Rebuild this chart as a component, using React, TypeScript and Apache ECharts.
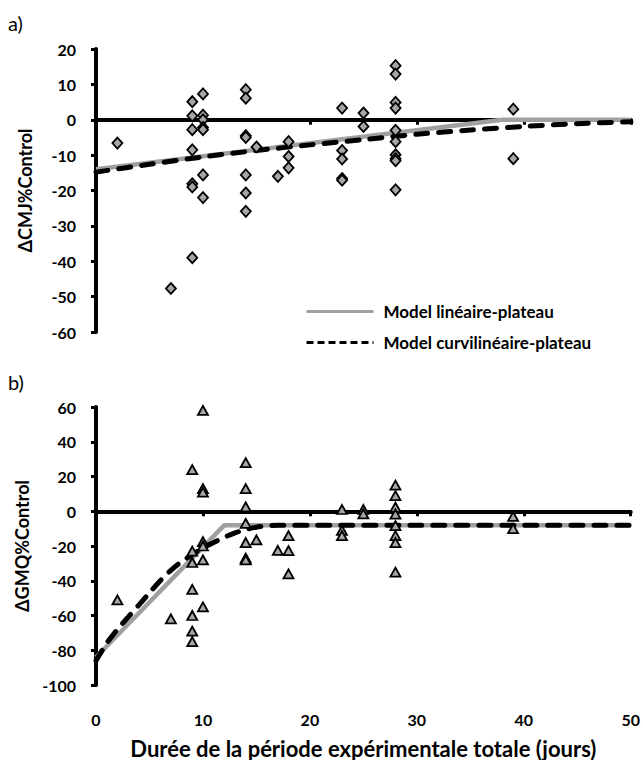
import React, { useEffect, useRef } from "react";
import * as echarts from "echarts";

// ---------- data ----------
const xTicks = [0, 10, 20, 30, 40, 50];

// Panel a) ΔCMJ%Control observations [days, value]
const cmjPoints: [number, number][] = [
  [2, -6.6], [7, -47.7],
  [9, 5.1], [9, 1.1], [9, -2.8], [9, -8.5], [9, -18.1], [9, -19], [9, -39],
  [10, 7.3], [10, 1.3], [10, 0], [10, -2.2], [10, -2.8], [10, -15.6], [10, -22],
  [14, 8.5], [14, 6.1], [14, -4.5], [14, -5], [14, -15.6], [14, -20.7], [14, -25.9],
  [15, -7.7], [17, -16],
  [18, -6.2], [18, -10.4], [18, -13.6],
  [23, 3.3], [23, -8.7], [23, -11.1], [23, -16.6], [23, -17.1],
  [25, 1.9], [25, -1.9],
  [28, 15.3], [28, 12.9], [28, 4.9], [28, 3.3], [28, -3], [28, -6.2], [28, -9.9], [28, -11], [28, -11.6], [28, -19.8],
  [39, 3], [39, -11],
];
const cmjLinear: [number, number][] = [[0, -14], [38, 0], [50, 0]];
const cmjCurve: [number, number][] = [
  [0, -14.8], [5, -12.6], [10, -10.5], [15, -8.7], [20, -7.1], [25, -5.6],
  [30, -4.1], [35, -2.9], [40, -1.9], [45, -1.1], [50, -0.6],
];

// Panel b) ΔGMQ%Control observations [days, value]
const gmqPoints: [number, number][] = [
  [2, -51], [7, -62],
  [9, 24], [9, -23], [9, -29.5], [9, -45], [9, -60], [9, -69], [9, -75],
  [10, 58], [10, 13], [10, 11], [10, -17.5], [10, -20], [10, -28], [10, -55],
  [14, 28], [14, 13], [14, 2.5], [14, -7], [14, -18], [14, -27], [14, -28],
  [15, -16.5], [17, -22.5],
  [18, -14], [18, -22.7], [18, -36],
  [23, 1], [23, -11], [23, -14],
  [25, 1], [25, -1.5],
  [28, 15], [28, 9], [28, 2.3], [28, -1.6], [28, -8.3], [28, -14], [28, -18], [28, -35],
  [39, -3], [39, -10],
];
const gmqLinear: [number, number][] = [[0, -84], [12, -8], [50, -8]];
const gmqCurve: [number, number][] = [
  [0, -86], [1, -76], [2, -68], [3, -61], [4, -54], [5, -47], [6, -40], [7, -34],
  [8, -29], [9, -25], [10, -21], [11, -18], [12, -15], [13, -12.5], [14, -10.5],
  [15, -9.2], [16, -8.4], [17, -8], [20, -8], [30, -8], [40, -8], [50, -8],
];

const seriesNames = ["Model linéaire-plateau", "Model curvilinéaire-plateau"];
const yTitles = ["ΔCMJ%Control", "ΔGMQ%Control"];
const xTitle = "Durée de la période expérimentale totale (jours)";
const panelLabels = ["a)", "b)"];

const FONT = "Lato, 'Open Sans', sans-serif";

export default function App() {
  const ref = useRef<HTMLDivElement>(null);
  useEffect(() => {
    if (!ref.current) return;
    const chart = echarts.init(ref.current, undefined, { renderer: "svg" });
    const axisLineStyle = { color: "#000", width: 4 };
    const tickStyle = { show: true, length: 5, lineStyle: { color: "#000", width: 3 } };
    const yLabel = { color: "#000", fontFamily: FONT, fontWeight: "bold" as const, fontSize: 16, margin: 20 };
    const xBase = {
      type: "value" as const,
      min: xTicks[0],
      max: xTicks[xTicks.length - 1],
      interval: 10,
      splitLine: { show: false },
    };
    const lineGray = { color: "#A0A0A0", width: 4.5 };
    const lineDash = { color: "#000", width: 5, type: [12, 11], cap: "round" as const };
    const hiddenSymbol = { opacity: 0, borderWidth: 0 };
    chart.setOption({
      animation: false,
      backgroundColor: "#fff",
      textStyle: { fontFamily: FONT },
      grid: [
        { left: 96, top: 49, width: 535, height: 283 },
        { left: 96, top: 407, width: 535, height: 279 },
      ],
      xAxis: [
        { ...xBase, gridIndex: 0, axisLine: { onZero: true, lineStyle: axisLineStyle }, axisTick: tickStyle, axisLabel: { show: false } },
        { ...xBase, gridIndex: 1, axisLine: { onZero: true, lineStyle: axisLineStyle }, axisTick: tickStyle, axisLabel: { show: false } },
        {
          ...xBase, gridIndex: 1, position: "bottom",
          axisLine: { show: false, onZero: false }, axisTick: { show: false },
          axisLabel: { color: "#000", fontFamily: FONT, fontWeight: "bold", fontSize: 16, margin: 26 },
          name: xTitle, nameLocation: "middle", nameGap: 52,
          nameTextStyle: { color: "#000", fontFamily: FONT, fontWeight: "bold", fontSize: 22 },
        },
      ],
      yAxis: [
        {
          type: "value", gridIndex: 0, min: -60, max: 20, interval: 10,
          axisLine: { show: true, onZero: false, lineStyle: axisLineStyle }, axisTick: tickStyle,
          axisLabel: yLabel, splitLine: { show: false },
          name: yTitles[0], nameLocation: "middle", nameGap: 62,
          nameTextStyle: { color: "#000", fontFamily: FONT, fontWeight: "bold", fontSize: 18 },
        },
        {
          type: "value", gridIndex: 1, min: -100, max: 60, interval: 20,
          axisLine: { show: true, onZero: false, lineStyle: axisLineStyle }, axisTick: tickStyle,
          axisLabel: yLabel, splitLine: { show: false },
          name: yTitles[1], nameLocation: "middle", nameGap: 62,
          nameTextStyle: { color: "#000", fontFamily: FONT, fontWeight: "bold", fontSize: 18 },
        },
      ],
      legend: {
        orient: "vertical",
        left: 305,
        top: 303,
        padding: 0,
        itemWidth: 67,
        itemHeight: 14,
        itemGap: 14,
        selectedMode: false,
        textStyle: { color: "#000", fontFamily: FONT, fontWeight: "bold", fontSize: 17, padding: [0, 0, 0, 5] },
        data: [
          { name: seriesNames[0], itemStyle: hiddenSymbol, lineStyle: { color: "#A0A0A0", width: 3, type: "solid" } },
          { name: seriesNames[1], itemStyle: hiddenSymbol, lineStyle: { color: "#000", width: 3, type: [7, 4], cap: "butt" } },
        ],
      },
      graphic: [
        { type: "text", left: 8, top: 13, style: { text: panelLabels[0], font: `20px ${FONT}`, fill: "#000" } },
        { type: "text", left: 8, top: 372, style: { text: panelLabels[1], font: `20px ${FONT}`, fill: "#000" } },
      ],
      series: [
        { name: seriesNames[0], type: "line", xAxisIndex: 0, yAxisIndex: 0, data: cmjLinear, symbol: "none", lineStyle: lineGray, itemStyle: { color: "#A0A0A0" }, z: 2 },
        { name: seriesNames[1], type: "line", xAxisIndex: 0, yAxisIndex: 0, data: cmjCurve, symbol: "none", smooth: 0.3, lineStyle: lineDash, itemStyle: { color: "#000" }, z: 3 },
        {
          type: "scatter", xAxisIndex: 0, yAxisIndex: 0, data: cmjPoints, symbol: "diamond", symbolSize: [10, 11],
          itemStyle: { color: "#A6A6A6", borderColor: "#000", borderWidth: 1.8, opacity: 1 }, z: 4,
        },
        { name: seriesNames[0], type: "line", xAxisIndex: 1, yAxisIndex: 1, data: gmqLinear, symbol: "none", lineStyle: lineGray, itemStyle: { color: "#A0A0A0" }, z: 2 },
        { name: seriesNames[1], type: "line", xAxisIndex: 1, yAxisIndex: 1, data: gmqCurve, symbol: "none", smooth: 0.3, lineStyle: lineDash, itemStyle: { color: "#000" }, z: 3 },
        {
          type: "scatter", xAxisIndex: 1, yAxisIndex: 1, data: gmqPoints, symbol: "triangle", symbolSize: [10, 9],
          itemStyle: { color: "#A6A6A6", borderColor: "#000", borderWidth: 1.8, opacity: 1 }, z: 4,
        },
      ],
    });
    return () => chart.dispose();
  }, []);
  return <div ref={ref} style={{ position: "fixed", left: 0, top: 0, width: 643, height: 760 }} />;
}
